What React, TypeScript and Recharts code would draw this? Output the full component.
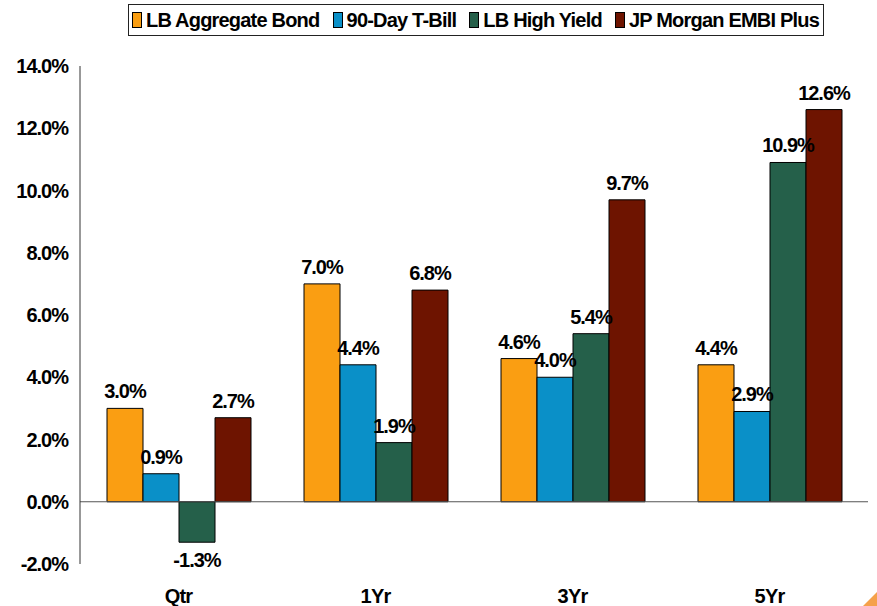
import React from 'react';
import { BarChart, Bar, XAxis, YAxis, ReferenceLine, LabelList } from 'recharts';

const categories = ['Qtr', '1Yr', '3Yr', '5Yr'];
const seriesNames = ['LB Aggregate Bond', '90-Day T-Bill', 'LB High Yield', 'JP Morgan EMBI Plus'];
const aggregateBond = [3.0, 7.0, 4.6, 4.4];
const tBill = [0.9, 4.4, 4.0, 2.9];
const highYield = [-1.3, 1.9, 5.4, 10.9];
const embiPlus = [2.7, 6.8, 9.7, 12.6];
const yTicks = [-2, 0, 2, 4, 6, 8, 10, 12, 14];

const COLORS = ['#FA9E12', '#0A90C8', '#25604A', '#6E1400'];
const KEYS = ['agg', 'tbill', 'hy', 'embi'];
const FONT = 'Arial, "Liberation Sans", sans-serif';

const data = categories.map((name, i) => ({
    name,
    agg: aggregateBond[i],
    tbill: tBill[i],
    hy: highYield[i],
    embi: embiPlus[i],
}));

const ValueLabel = (props: any) => {
    const { x, y, width, height, value } = props;
    const cx = x + width / 2;
    const top = Math.min(y, y + height);
    const bottom = Math.max(y, y + height);
    const ty = value < 0 ? bottom + 25 : top - 10;
    return (
        <text x={cx} y={ty} textAnchor="middle" fontFamily={FONT} fontWeight="bold" fontSize={20} letterSpacing={-1} fill="#000">
            {value.toFixed(1)}%
        </text>
    );
};

const XTick = (props: any) => {
    const { x, y, payload } = props;
    return (
        <text x={x} y={y + 31} textAnchor="middle" fontFamily={FONT} fontWeight="bold" fontSize={20} letterSpacing={-0.8} fill="#000">
            {payload.value}
        </text>
    );
};

const YTick = (props: any) => {
    const { x, y, payload } = props;
    return (
        <text x={x} y={y + 7} textAnchor="end" fontFamily={FONT} fontWeight="bold" fontSize={20} letterSpacing={-1} fill="#000">
            {payload.value.toFixed(1)}%
        </text>
    );
};

export default function App() {
    return (
        <div style={{ position: 'fixed', left: 0, top: 0, width: 877, height: 606, background: '#fff', overflow: 'hidden' }}>
            <div
                style={{
                    position: 'absolute',
                    left: 128,
                    top: 4,
                    width: 687,
                    height: 30,
                    border: '1px solid #222',
                    display: 'flex',
                    alignItems: 'center',
                    justifyContent: 'space-between',
                    paddingLeft: 3,
                    paddingRight: 4,
                    fontFamily: FONT,
                    fontWeight: 'bold',
                    fontSize: 20,
                    letterSpacing: -0.8,
                    whiteSpace: 'nowrap',
                }}
            >
                {seriesNames.map((s, i) => (
                    <span key={s} style={{ display: 'inline-flex', alignItems: 'center' }}>
                        <span
                            style={{
                                display: 'inline-block',
                                width: 8,
                                height: 14,
                                background: COLORS[i],
                                border: '1px solid #000',
                                marginRight: 4,
                            }}
                        />
                        {s}
                    </span>
                ))}
            </div>
            <BarChart
                width={877}
                height={606}
                data={data}
                margin={{ top: 66, right: 9, left: 0, bottom: 0 }}
                barGap={0}
                barSize={36}
            >
                <XAxis dataKey="name" axisLine={false} tickLine={false} height={42} tick={<XTick />} />
                <YAxis
                    width={80}
                    domain={[-2, 14]}
                    ticks={yTicks}
                    axisLine={{ stroke: '#333' }}
                    tickLine={false}
                    tickMargin={6}
                    tick={<YTick />}
                    interval={0}
                />
                <ReferenceLine y={0} stroke="#555" />
                {KEYS.map((k, i) => (
                    <Bar key={k} dataKey={k} name={seriesNames[i]} fill={COLORS[i]} stroke="#000" strokeWidth={1} isAnimationActive={false}>
                        <LabelList dataKey={k} content={<ValueLabel />} />
                    </Bar>
                ))}
            </BarChart>
            <div
                style={{
                    position: 'absolute',
                    right: 0,
                    bottom: 0,
                    width: 0,
                    height: 0,
                    borderLeft: '14px solid transparent',
                    borderBottom: '14px solid #F5A14A',
                }}
            />
        </div>
    );
}
